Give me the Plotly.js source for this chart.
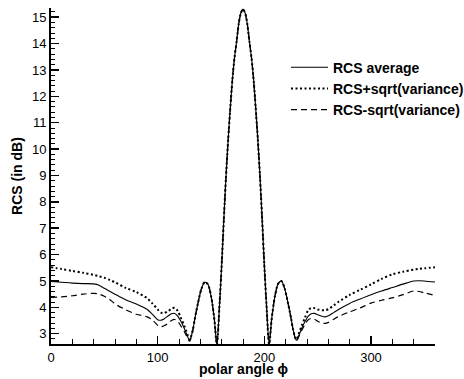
<!DOCTYPE html>
<html>
<head>
<meta charset="utf-8">
<script src="https://cdn.plot.ly/plotly-3.0.1.min.js"></script>
<style>html,body{margin:0;padding:0;background:#fff;}#chart{width:464px;height:379px;}</style>
</head>
<body>
<div id="chart"></div>
<script>
// polar angle (degrees)
const phi = [0,10,20,30,40,45,50,55,60,70,80,90,95,100,103,106,110,113,116,119,122,125,127,130,
  133,135,138,141,144,147,150,153,155.5,158,160,162,164,166,168,170,172,174,176,178,180,
  182,184,186,188,190,192,194,196,198,200,202,204.5,207,210,213,216,219,222,225,227,
  230,233,235,238,241,244,247,250,254,257,260,265,270,280,290,300,310,320,330,340,345,350,360];

// shared main lobe / first side lobes (133..227)
const lobes = [3.15,3.6,4.2,4.7,4.95,4.88,4.44,3.6,2.6,4.1,5.6,7.3,8.9,10.3,11.5,12.6,13.45,14.08,14.75,15.16,15.3,
  15.16,14.75,14.08,13.45,12.6,11.5,10.3,8.9,7.3,5.6,4.1,2.6,3.6,4.44,4.9,5.0,4.72,4.2,3.6,3.15];

const avgLeft  = [4.98,4.95,4.92,4.90,4.89,4.84,4.72,4.61,4.50,4.29,4.13,3.93,3.74,3.53,3.51,3.56,3.68,3.76,3.77,3.66,3.45,3.2,3.0,2.75];
const avgRight = [2.75,3.0,3.2,3.45,3.66,3.76,3.77,3.72,3.66,3.64,3.68,3.8,3.93,4.15,4.32,4.48,4.62,4.75,4.88,5.0,5.01,5.0,4.96];

const upLeft  = [5.52,5.45,5.38,5.31,5.23,5.18,5.12,5.04,4.95,4.74,4.58,4.35,4.15,3.92,3.80,3.78,3.86,3.95,3.98,3.85,3.58,3.3,3.08,2.78];
const upRight = [2.78,3.08,3.3,3.6,3.88,3.98,3.97,3.92,3.89,3.89,3.93,4.07,4.22,4.47,4.67,4.87,5.08,5.25,5.35,5.43,5.46,5.48,5.52];

const loLeft  = [4.38,4.40,4.44,4.50,4.53,4.50,4.42,4.30,4.13,3.91,3.74,3.64,3.52,3.32,3.26,3.30,3.40,3.50,3.54,3.46,3.28,3.08,2.92,2.72];
const loRight = [2.72,2.95,3.12,3.35,3.52,3.58,3.55,3.47,3.40,3.39,3.43,3.55,3.66,3.83,3.98,4.16,4.27,4.36,4.48,4.62,4.60,4.55,4.45];

const rcsAvg   = avgLeft.concat(lobes, avgRight);
const rcsPlus  = upLeft.concat(lobes, upRight);
const rcsMinus = loLeft.concat(lobes, loRight);

const names = ["RCS average", "RCS+sqrt(variance)", "RCS-sqrt(variance)"];
const xTitle = "polar angle ϕ";
const yTitle = "RCS (in dB)";

const traces = [
  {x: phi, y: rcsAvg, name: names[0], mode: "lines", line: {color: "#000", width: 1.1, dash: "solid", shape: "spline", smoothing: 0.8}},
  {x: phi, y: rcsPlus, name: names[1], mode: "lines", line: {color: "#000", width: 2, dash: "2px,2.5px", shape: "spline", smoothing: 0.8}},
  {x: phi, y: rcsMinus, name: names[2], mode: "lines", line: {color: "#000", width: 1.2, dash: "6px,4px", shape: "spline", smoothing: 0.8}}
];

const font = "Liberation Sans, Arial, Helvetica, sans-serif";
const layout = {
  width: 464, height: 379,
  margin: {l: 51, r: 29, t: 8, b: 35, autoexpand: false},
  paper_bgcolor: "#fff", plot_bgcolor: "#fff",
  font: {family: font, size: 13, color: "#000"},
  showlegend: true,
  legend: {x: 0.612, y: 0.87, xanchor: "left", yanchor: "top", bgcolor: "rgba(0,0,0,0)",
           itemwidth: 37,
           font: {family: font, size: 14, color: "#000", weight: "bold"}},
  xaxis: {
    range: [0, 360], tickmode: "linear", tick0: 0, dtick: 100,
    ticks: "inside", ticklen: 8, tickwidth: 1.5, tickcolor: "#000",
    minor: {ticks: "inside", dtick: 20, ticklen: 5, tickwidth: 1, tickcolor: "#000"},
    showline: true, linewidth: 2, linecolor: "#000", mirror: false,
    showgrid: false, zeroline: false,
    tickfont: {family: font, size: 13, color: "#000"}
  },
  yaxis: {
    range: [2.61, 15.35], tickmode: "linear", tick0: 3, dtick: 1,
    ticks: "inside", ticklen: 8, tickwidth: 1.5, tickcolor: "#000",
    minor: {ticks: "inside", dtick: 0.2, ticklen: 4, tickwidth: 1, tickcolor: "#000"},
    showline: true, linewidth: 2, linecolor: "#000", mirror: false,
    showgrid: false, zeroline: false,
    tickfont: {family: font, size: 13, color: "#000"},
    title: {text: yTitle, font: {family: font, size: 14, color: "#000", weight: "bold"}, standoff: 6}
  },
  annotations: [
    {text: "<b>" + xTitle + "</b>", xref: "paper", yref: "paper", x: 0.5, y: -0.073,
     xanchor: "center", yanchor: "middle", showarrow: false,
     font: {family: font, size: 14, color: "#000"}}
  ]
};

Plotly.newPlot("chart", traces, layout, {displayModeBar: false, staticPlot: true});
</script>
</body>
</html>
